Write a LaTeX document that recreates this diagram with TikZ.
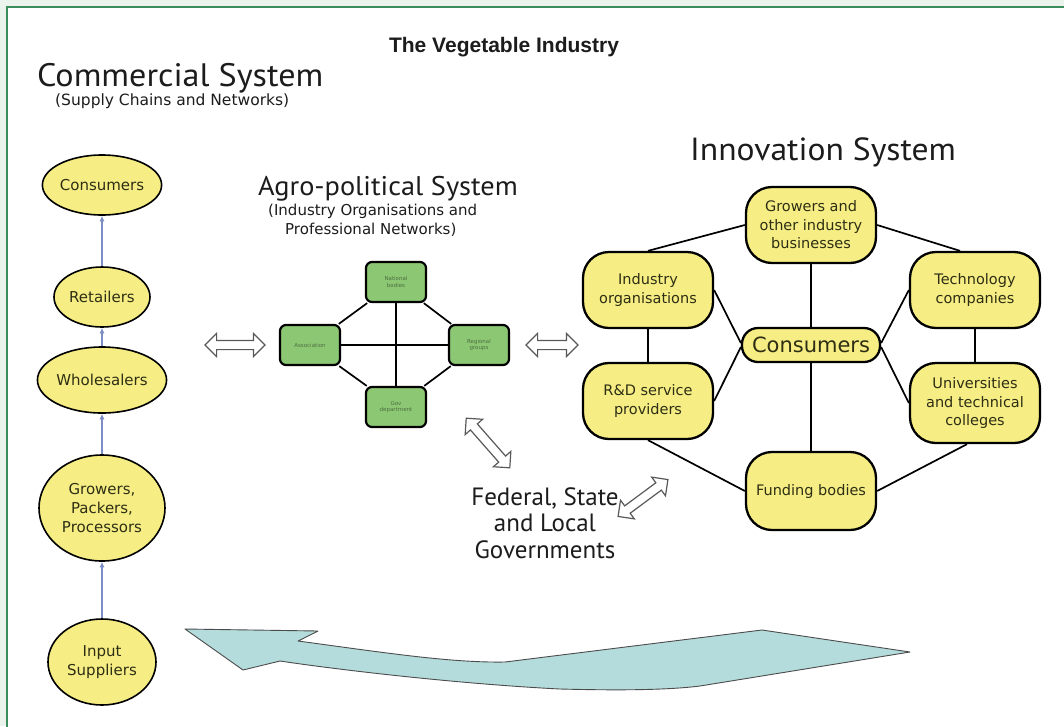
\documentclass[tikz,border=0pt]{standalone}
\usepackage{fontspec}
\setmainfont{PT Sans}
\newfontfamily\headfont[FakeStretch=1.05]{PT Sans}
\newfontfamily\titlefont{Liberation Sans}
\newfontfamily\nodefont{DejaVu Sans}
\usetikzlibrary{shapes.geometric,shapes.arrows,arrows.meta}
\definecolor{bandgreen}{HTML}{EAF4EC}
\definecolor{framegreen}{HTML}{3C8C5C}
\definecolor{nodeyellow}{HTML}{F6EE84}
\definecolor{boxgreen}{HTML}{8CC874}
\definecolor{arrowteal}{HTML}{B4DCDC}
\definecolor{chainblue}{HTML}{7C8CC4}
\definecolor{inktext}{HTML}{2E2E14}
\definecolor{headink}{HTML}{1C1C1C}
\begin{document}
\begin{tikzpicture}[x=1pt,y=-1pt,
  chain/.style={ellipse, draw=black, line width=1.6pt, fill=nodeyellow, inner sep=0pt, align=center,
    font=\nodefont\fontsize{15}{19}\selectfont, text=inktext},
  inno/.style={rectangle, rounded corners=26pt, draw=black, line width=2.3pt, fill=nodeyellow, inner sep=0pt,
    align=center, font=\nodefont\fontsize{14.5}{18.5}\selectfont, text=inktext, minimum width=130pt, minimum height=76pt},
  agro/.style={rectangle, rounded corners=6pt, draw=black, line width=2.2pt, fill=boxgreen, inner sep=0pt,
    align=center, font=\nodefont\fontsize{5.5}{6.5}\selectfont, text=black!45!boxgreen, minimum width=60pt, minimum height=40pt},
  hollow/.style={double arrow, draw=black!65, fill=white, line width=1.2pt, inner xsep=0pt, inner ysep=4pt,
    double arrow head extend=7pt},
  chainarrow/.style={draw=chainblue, line width=1.1pt, -{Latex[length=5.5pt,width=5pt]}},
  link/.style={draw=black, line width=1.7pt},
  trunk/.style={draw=black, line width=2.7pt},
  heading/.style={anchor=base west, inner sep=0pt, text=headink}
]
\useasboundingbox (0,0) rectangle (1064,726);
\fill[bandgreen] (0,0) rectangle (1064,726);
\filldraw[fill=white, draw=framegreen, line width=1.5pt] (7,7) rectangle (1080,745);

% title and headings
\node[inner sep=0pt, font=\titlefont\bfseries\fontsize{21}{23}\selectfont, text=headink] (title) at (504,47) {The Vegetable Industry};
\node[heading, font=\headfont\fontsize{32.5}{35}\selectfont] (hC) at (37,86) {Commercial System};
\node[heading, font=\nodefont\fontsize{15.5}{17}\selectfont] (hCs) at (55,105) {(Supply Chains and Networks)};
\node[heading, font=\headfont\fontsize{27}{30}\selectfont] (hA) at (258,195) {Agro-political System};
\node[anchor=north west, inner sep=0pt, align=left, text=headink, font=\nodefont\fontsize{15}{19}\selectfont] (hAs) at (268,204)
  {(Industry Organisations and\\\hspace*{17pt}Professional Networks)};
\node[heading, font=\headfont\fontsize{32}{34}\selectfont] (hI) at (690,160) {Innovation System};

% commercial system
\node[chain, minimum width=100pt, minimum height=60pt] (cC) at (102,185) {Consumers};
\node[chain, minimum width=96pt, minimum height=60pt] (cR) at (102,297) {Retailers};
\node[chain, minimum width=108pt, minimum height=66pt] (cW) at (102,380) {Wholesalers};
\node[chain, minimum width=126pt, minimum height=106pt] (cG) at (102,508) {Growers,\\Packers,\\Processors};
\node[chain, minimum width=108pt, minimum height=86pt] (cI) at (102,662) {Input\\Suppliers};
\draw[chainarrow] (cR) -- (cC);
\draw[chainarrow] (cW) -- (cR);
\draw[chainarrow] (cG) -- (cW);
\draw[chainarrow] (cI) -- (cG);

% agro-political system
\node[agro] (gN) at (396,282) {National\\bodies};
\node[agro] (gA) at (310,345) {Association};
\node[agro] (gR) at (479,345) {Regional\\groups};
\node[agro] (gG) at (396,407) {Gov\\department};
\draw[link] (gN) -- (gA);
\draw[link] (gN) -- (gR);
\draw[link] (gA) -- (gG);
\draw[link] (gR) -- (gG);
\draw[line width=1.2pt] (gA) -- (gR);
\draw[link] (gN) -- (gG);

% innovation system
\node[inno] (iG) at (811,225) {Growers and\\other industry\\businesses};
\node[inno] (iO) at (648,290) {Industry\\organisations};
\node[inno] (iT) at (975,290) {Technology\\companies};
\node[inno, rounded corners=16pt, minimum width=138pt, minimum height=34pt, font=\nodefont\fontsize{21}{24}\selectfont] (iC) at (811,345) {Consumers};
\node[inno] (iR) at (648,401) {R\&D service\\providers};
\node[inno, minimum height=80pt] (iU) at (975,403) {Universities\\and technical\\colleges};
\node[inno, minimum height=78pt] (iF) at (811,491) {Funding bodies};
\draw[link] (iO.north) -- (iG.west);
\draw[link] (iG.east) -- ([xshift=-15pt]iT.north);
\draw[link] (iO.east) -- ([yshift=2pt]iC.west);
\draw[link] (iR.east) -- ([yshift=-2pt]iC.west);
\draw[link] ([yshift=2pt]iC.east) -- (iT.west);
\draw[link] ([yshift=-2pt]iC.east) -- (iU.west);
\draw[link] (iR.south) -- (iF.west);
\draw[link] (iF.east) -- ([xshift=-8pt]iU.south);
\draw[trunk] (iG) -- (iC);
\draw[trunk] (iC) -- (iF);
\draw[trunk] (iO) -- (iR);
\draw[trunk] (iT) -- (iU);

% governments
\node[align=center, inner sep=0pt, text=headink, font=\fontsize{25}{26.5}\selectfont] (gov) at (545,523)
  {Federal, State\\and Local\\Governments};

% hollow double arrows
\node[hollow, minimum height=60pt] (dL) at (235,345) {};
\node[hollow, minimum height=52pt] (dR) at (552,345) {};
\node[hollow, minimum height=66pt, rotate=-48.7] (dG1) at (488,443) {};
\node[hollow, minimum height=62pt, rotate=36.5] (dG2) at (643,498) {};

% big feedback arrow
\filldraw[fill=arrowteal, draw=black!70, line width=0.9pt, line join=round]
  (185,629) -- (318,631) -- (298,641)
  .. controls (380,652) and (450,663) .. (505,662)
  -- (762,630) -- (910,652) -- (700,686)
  .. controls (660,691) and (600,690) .. (560,689)
  .. controls (460,684) and (340,670) .. (280,661)
  -- (243,670) -- cycle;
\end{tikzpicture}
\end{document}
